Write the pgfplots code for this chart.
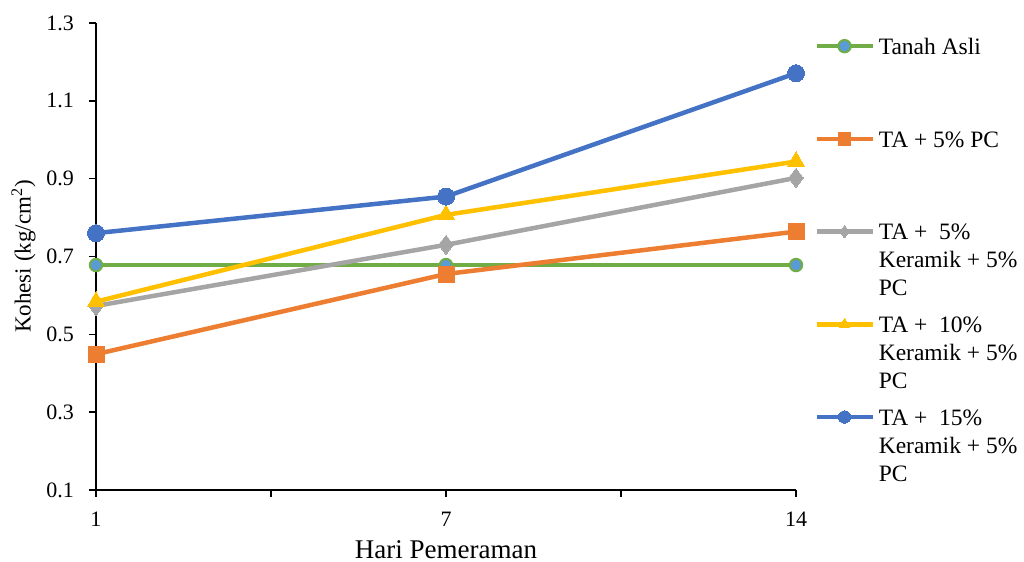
\documentclass[border=0pt]{standalone}
\usepackage{pgfplots}
\pgfplotsset{compat=1.18}
\usepackage{fontspec}
\setmainfont{Liberation Serif}

\definecolor{cgreen}{HTML}{70AD47}
\definecolor{corange}{HTML}{ED7D31}
\definecolor{cgray}{HTML}{A5A5A5}
\definecolor{cyellow}{HTML}{FFC000}
\definecolor{cblue}{HTML}{4472C4}
\definecolor{clblue}{HTML}{5B9BD5}

\newcommand{\entry}[3]{\begin{tabular}[t]{@{}l@{}}#1\\#2\\#3\end{tabular}}

\begin{document}
\begin{tikzpicture}
\path[use as bounding box] (-48pt,-36pt) rectangle (464pt,245pt);
\begin{axis}[
  scale only axis,
  width=350pt, height=233.5pt,
  xmin=0, xmax=2, ymin=0.1, ymax=1.3,
  axis x line*=bottom, axis y line*=left,
  axis line style={line width=0.75pt, -},
  xtick={0,0.5,1,1.5,2},
  xticklabels={1,,7,,14},
  ytick={0.1,0.3,...,1.3},
  yticklabel style={/pgf/number format/fixed, /pgf/number format/fixed zerofill, /pgf/number format/precision=1, xshift=-4pt},
  /pgf/number format/assume math mode=true,
  tick style={line width=0.75pt, black},
  tick align=outside,
  major tick length=3.5pt,
  ticklabel style={font=\fontsize{11}{13}\selectfont},
  xticklabel style={yshift=-4pt},
  xlabel={Hari Pemeraman},
  ylabel={Kohesi (kg/cm\textsuperscript{2})},
  xlabel style={font=\fontsize{13.5}{15}\selectfont, yshift=0pt},
  ylabel style={font=\fontsize{11.5}{13}\selectfont, yshift=-1.5pt},
  every axis plot/.append style={line width=2.25pt},
  legend style={draw=none, fill=none, at={(1.017,1.016)}, anchor=north west,
    font=\fontsize{11.75}{14}\selectfont, row sep=-7.9pt,
    cells={anchor=base west}},
  legend cell align=left,
  legend image code/.code={%
    \path (0pt,-40pt) (0pt,12pt);
    \draw[mark repeat=2,mark phase=2] plot coordinates {(0pt,0pt)(14pt,0pt)(28pt,0pt)};},
  legend image post style={mark size=3.1pt},
  clip=false,
]
\addplot[cgreen, mark=*, mark size=3.1pt, mark options={fill=clblue, draw=cgreen, line width=1pt}]
  coordinates {(0,0.678) (1,0.678) (2,0.678)};
\addlegendentry{\entry{Tanah Asli}{}{}}
\addplot[corange, mark=square*, mark size=4pt, mark options={fill=corange, draw=corange, line width=0pt}]
  coordinates {(0,0.449) (1,0.655) (2,0.764)};
\addlegendentry{\entry{TA + 5\% PC}{}{}}
\addplot[cgray, mark=diamond*, mark size=4.8pt, mark options={fill=cgray, draw=cgray, line width=0pt}]
  coordinates {(0,0.573) (1,0.730) (2,0.902)};
\addlegendentry{\entry{TA +\ \ 5\%}{Keramik + 5\%}{PC}}
\addplot[cyellow, mark=triangle*, mark size=5pt, mark options={fill=cyellow, draw=cyellow, line width=0pt}]
  coordinates {(0,0.584) (1,0.807) (2,0.944)};
\addlegendentry{\entry{TA +\ \ 10\%}{Keramik + 5\%}{PC}}
\addplot[cblue, mark=*, mark size=4.25pt, mark options={fill=cblue, draw=cblue, line width=0pt}]
  coordinates {(0,0.760) (1,0.854) (2,1.171)};
\addlegendentry{\entry{TA +\ \ 15\%}{Keramik + 5\%}{PC}}
\end{axis}
\end{tikzpicture}
\end{document}
